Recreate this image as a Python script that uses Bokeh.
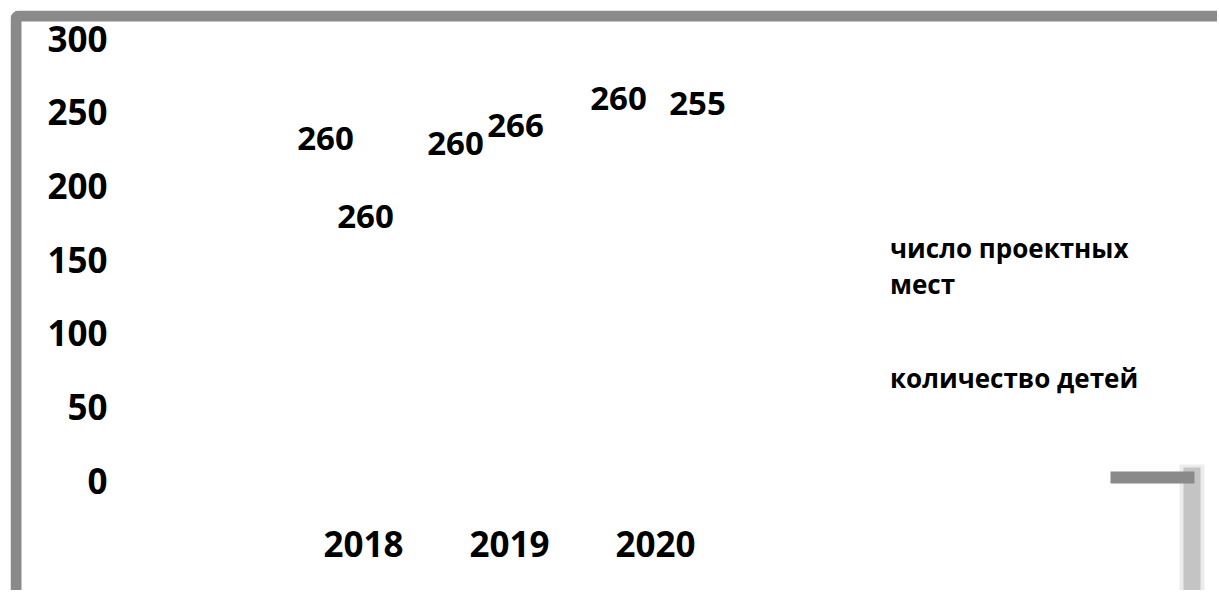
from bokeh.plotting import figure
from bokeh.models import (Range1d, FixedTicker, BoxAnnotation, Legend, LegendItem,
                          ColumnDataSource)
from bokeh.transform import dodge
from bokeh.core.properties import value
from bokeh.embed import file_html
from bokeh.resources import INLINE

# ---- data ----
years = [2018, 2019, 2020]
places = [260, 260, 260]        # число проектных мест
children = [260, 266, 255]      # количество детей
series_names = ["число проектных\nмест", "количество детей"]
y_ticks = [0, 50, 100, 150, 200, 250, 300]

# ---- label pixel offsets (style only) ----
places_dx = [-38, -54, -37]
places_dy = [41, 46, 1]
children_dx = [2, 6, 42]
children_dy = [119, 37, -1]

FONT = "Open Sans"
GRAY = "#8a8a8a"

src = ColumnDataSource(dict(
    year=years, places=places, children=children,
    places_txt=[str(v) for v in places], children_txt=[str(v) for v in children],
    places_dx=places_dx, places_dy=places_dy,
    children_dx=children_dx, children_dy=children_dy,
))

W, H = 1217, 590
p = figure(width=W, height=H, output_backend="svg", toolbar_location=None,
           x_range=Range1d(2015.5822, 2023.8493), y_range=Range1d(-74.66, 319.005),
           min_border_left=10, min_border_right=0, min_border_top=10,
           min_border_bottom=0, background_fill_color="white",
           border_fill_color="white")
p.outline_line_color = None
p.xgrid.visible = False
p.ygrid.visible = False

# invisible bars (as in the reference, only labels are visible)
r1 = p.vbar(x=dodge("year", -0.17, range=p.x_range), top="places", width=0.3,
            source=src, fill_alpha=0, line_alpha=0)
r2 = p.vbar(x=dodge("year", 0.17, range=p.x_range), top="children", width=0.3,
            source=src, fill_alpha=0, line_alpha=0)

common = dict(source=src, text_font=value(FONT), text_font_style="bold",
              text_font_size="33px", text_color="black", text_align="center",
              text_baseline="middle")
p.text(x="year", y="places", text="places_txt", x_offset="places_dx",
       y_offset="places_dy", **common)
p.text(x="year", y="children", text="children_txt", x_offset="children_dx",
       y_offset="children_dy", **common)

for ax in (p.xaxis, p.yaxis):
    ax.axis_line_color = None
    ax.major_tick_line_color = None
    ax.minor_tick_line_color = None
    ax.major_tick_out = 0
    ax.major_tick_in = 0
    ax.minor_tick_out = 0
    ax.major_label_text_font = FONT
    ax.major_label_text_font_style = "bold"
    ax.major_label_text_font_size = "35px"
    ax.major_label_text_color = "black"
p.xaxis.ticker = FixedTicker(ticks=years)
p.yaxis.ticker = FixedTicker(ticks=y_ticks)
# tick labels sit inside the bordered chart area
p.xaxis.major_label_standoff = -60
p.yaxis.major_label_standoff = -97

legend = Legend(items=[LegendItem(label=series_names[0], renderers=[r1]),
                       LegendItem(label=series_names[1], renderers=[r2])],
                location=(879, 194), padding=0, margin=0, spacing=58,
                glyph_width=1, glyph_height=1, label_standoff=0,
                border_line_color=None, background_fill_alpha=0,
                label_text_font=FONT, label_text_font_style="bold",
                label_text_font_size="26px", label_text_line_height=1.55,
                label_text_color="black")
p.add_layout(legend)

# chart-area frame (gray border) and bottom-right artefacts
def canvas_box(**kw):
    return BoxAnnotation(left_units="canvas", right_units="canvas",
                         top_units="canvas", bottom_units="canvas",
                         level="overlay", **kw)

p.add_layout(canvas_box(left=15.5, right=1500, top=15.5, bottom=1000,
                        fill_alpha=0, line_color=GRAY, line_alpha=1,
                        line_width=11, border_radius=3))
p.add_layout(canvas_box(left=1179, right=1204, top=464, bottom=1000,
                        fill_color="#c8c8c8", fill_alpha=0.35, line_alpha=0))
p.add_layout(canvas_box(left=1183, right=1200, top=467, bottom=1000,
                        fill_color="#c4c4c4", fill_alpha=1, line_alpha=0))
p.add_layout(canvas_box(left=1110, right=1194, top=471, bottom=483,
                        fill_color=GRAY, fill_alpha=1, line_alpha=0))

open("out.html", "w").write(file_html(p, INLINE))
